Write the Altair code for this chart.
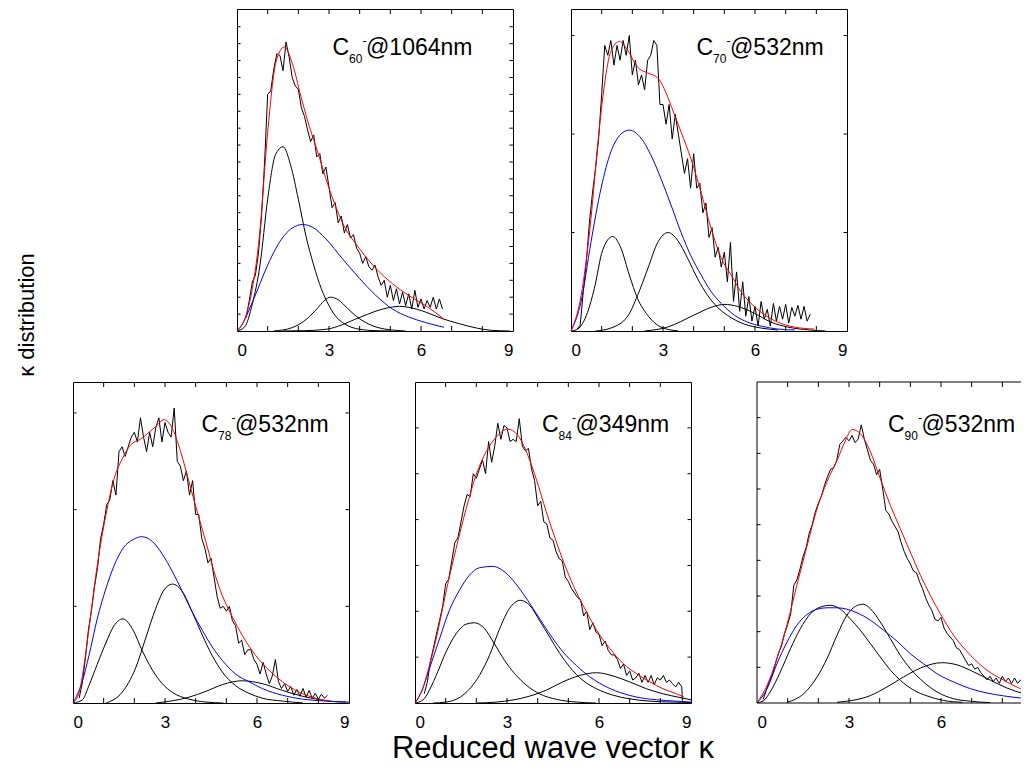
import altair as alt
import pandas as pd

FONT = "Liberation Sans"
W = 276
W_LAST = 264          # last panel is cut by the page edge in the reference
H_TOP = 322
H_BOT = 321

X_LABELS = [0, 3, 6, 9]
X_LABELS_LAST = [0, 3, 6]
X_MINOR = [1, 2, 3, 4, 5, 6, 7, 8]

# ---------------- C60- @ 1064 nm ----------------
C60_DATA_X = [0.3, 0.4, 0.5, 0.6, 0.7, 0.8, 0.9, 1.0, 1.1, 1.2, 1.3, 1.4, 1.5, 1.6, 1.7, 1.8, 1.9, 2.0,
              2.1, 2.2, 2.3, 2.4, 2.5, 2.6, 2.7, 2.8, 2.9, 3.0, 3.1, 3.2, 3.3, 3.4, 3.5, 3.6, 3.7, 3.8,
              3.9, 4.0, 4.1, 4.2, 4.3, 4.4, 4.5, 4.6, 4.7, 4.8, 4.9, 5.0, 5.1, 5.2, 5.3, 5.4, 5.5, 5.6,
              5.7, 5.8, 5.9, 6.0, 6.1, 6.2, 6.3, 6.4, 6.5, 6.6, 6.7]
C60_DATA_Y = [0.8, 1.8, 2.9, 3.3, 4.6, 6.8, 10.0, 14.0, 14.2, 15.5, 16.4, 16.3, 15.4, 17.1, 16.2, 15.0, 14.5, 14.3,
              13.2, 12.7, 11.9, 11.2, 11.6, 10.3, 10.5, 9.3, 9.7, 8.5, 7.3, 7.6, 6.4, 6.8, 5.8, 6.3, 5.5, 5.7,
              4.9, 4.6, 4.0, 4.4, 3.8, 3.6, 3.9, 3.2, 2.7, 3.0, 2.0, 2.7, 1.8, 2.5, 1.6, 2.3, 1.5, 2.2,
              1.3, 2.4, 1.4, 1.9, 1.3, 1.8, 1.4, 2.0, 1.3, 1.9, 1.3]
C60_C1_X = [0, 0.25, 0.5, 0.75, 1.0, 1.25, 1.5, 1.75, 2.0, 2.25, 2.5, 2.75, 3.0, 3.25, 3.5, 4.0, 4.5, 5.0]
C60_C1_Y = [0, 0.24, 1.6, 3.9, 7.8, 10.4, 10.9, 9.8, 7.8, 5.6, 3.9, 2.5, 1.5, 0.8, 0.43, 0.1, 0.02, 0]
C60_C2_X = [1.2, 1.8, 2.3, 2.6, 2.85, 3.05, 3.3, 3.6, 3.9, 4.2, 4.6, 5.0, 5.5]
C60_C2_Y = [0, 0.2, 0.75, 1.3, 1.8, 2.0, 1.85, 1.35, 0.85, 0.5, 0.2, 0.07, 0]
C60_C3_X = [1.5, 2.2, 2.9, 4.0, 4.5, 5.07, 5.3, 5.6, 6.15, 6.7, 7.25, 7.8, 8.3, 8.9]
C60_C3_Y = [0, 0.02, 0.1, 0.8, 1.16, 1.42, 1.46, 1.4, 1.12, 0.73, 0.43, 0.18, 0.04, 0]
C60_BLUE_X = [0, 0.18, 0.5, 1.0, 1.27, 1.54, 1.81, 2.14, 2.46, 2.9, 3.44, 4.0, 4.53, 5.07, 5.6, 6.15, 6.75]
C60_BLUE_Y = [0, 0.43, 1.7, 3.9, 4.9, 5.65, 6.1, 6.3, 6.14, 5.45, 4.27, 3.1, 2.1, 1.3, 0.83, 0.5, 0.22]
C60_RED_X = [0, 0.29, 0.5, 0.73, 1.0, 1.27, 1.54, 1.81, 2.08, 2.36, 2.63, 2.9, 3.17, 3.44, 4.0, 4.53,
             5.07, 5.6, 6.15, 6.75]
C60_RED_Y = [0, 0.9, 2.5, 5.6, 11.75, 15.9, 16.8, 15.8, 13.9, 12.1, 10.6, 9.0, 7.6, 6.4, 4.86, 3.7,
             2.8, 2.1, 1.5, 0.7]

# ---------------- C70- @ 532 nm ----------------
C70_DATA_X = [0.2, 0.3, 0.4, 0.5, 0.6, 0.7, 0.8, 0.9, 1.0, 1.1, 1.2, 1.3, 1.4, 1.5, 1.6, 1.7, 1.8, 1.9,
              2.0, 2.1, 2.2, 2.3, 2.4, 2.5, 2.6, 2.7, 2.8, 2.9, 3.0, 3.1, 3.2, 3.3, 3.4, 3.5, 3.6, 3.7,
              3.8, 3.9, 4.0, 4.1, 4.2, 4.3, 4.4, 4.5, 4.6, 4.7, 4.8, 4.9, 5.0, 5.1, 5.2, 5.3, 5.4, 5.5,
              5.6, 5.7, 5.8, 5.9, 6.0, 6.1, 6.2, 6.3, 6.4, 6.5, 6.6, 6.7, 6.8, 6.9, 7.0, 7.1, 7.2, 7.3,
              7.4, 7.5, 7.6, 7.7, 7.8]
C70_DATA_Y = [0.02, 0.06, 0.4, 0.7, 1.1, 1.4, 1.65, 1.95, 2.4, 2.9, 2.8, 2.95, 2.7, 2.9, 2.75, 2.95, 2.8, 3.0,
              2.6, 2.75, 2.5, 2.6, 2.45, 2.75, 2.8, 2.95, 2.9, 2.3, 2.3, 2.1, 2.3, 1.95, 2.2, 2.0, 1.8, 1.6,
              1.75, 1.45, 1.8, 1.45, 1.5, 1.2, 1.3, 0.95, 1.05, 0.75, 0.85, 0.65, 0.8, 0.5, 0.9, 0.3, 0.6, 0.2,
              0.5, 0.15, 0.35, 0.1, 0.25, 0.05, 0.3, 0.12, 0.22, 0.05, 0.28, 0.1, 0.25, 0.12, 0.27, 0.08, 0.24, 0.15,
              0.26, 0.12, 0.25, 0.1, 0.17]
C70_C1_X = [0, 0.22, 0.54, 0.76, 1.03, 1.36, 1.63, 1.9, 2.17, 2.5, 2.93, 3.5]
C70_C1_Y = [0, 0.02, 0.19, 0.43, 0.82, 0.96, 0.84, 0.57, 0.33, 0.16, 0.04, 0]
C70_C2_X = [0.8, 1.3, 1.85, 2.17, 2.5, 2.83, 3.17, 3.48, 3.8, 4.13, 4.46, 4.78, 5.1, 5.65, 6.2, 6.75]
C70_C2_Y = [0, 0.03, 0.15, 0.36, 0.63, 0.9, 1.0, 0.92, 0.74, 0.53, 0.36, 0.24, 0.16, 0.07, 0.03, 0.01]
C70_C3_X = [2.4, 3.15, 4.0, 4.57, 5.0, 5.43, 5.98, 6.52, 7.07, 7.8, 8.3]
C70_C3_Y = [0, 0.04, 0.16, 0.24, 0.27, 0.25, 0.18, 0.09, 0.04, 0.01, 0]
C70_BLUE_X = [0, 0.33, 0.65, 0.98, 1.3, 1.63, 1.9, 2.28, 2.6, 2.93, 3.26, 3.59, 3.9, 4.24, 4.57, 4.9,
              5.33, 5.76, 6.2, 6.74, 7.3]
C70_BLUE_Y = [0, 0.3, 0.9, 1.45, 1.82, 2.0, 2.04, 1.96, 1.79, 1.55, 1.28, 1.0, 0.77, 0.57, 0.4, 0.28,
              0.16, 0.09, 0.05, 0.02, 0.01]
C70_RED_X = [0, 0.33, 0.65, 0.87, 1.09, 1.3, 1.58, 1.85, 2.17, 2.5, 2.83, 3.04, 3.26, 3.59, 3.91, 4.24,
             4.57, 4.9, 5.22, 5.54, 5.87, 6.2, 6.74, 7.28, 7.93]
C70_RED_Y = [0, 0.36, 1.14, 1.89, 2.5, 2.84, 2.94, 2.85, 2.68, 2.62, 2.57, 2.46, 2.29, 2.02, 1.75, 1.41,
             1.04, 0.74, 0.57, 0.4, 0.28, 0.19, 0.09, 0.04, 0.02]

# ---------------- C78- @ 532 nm ----------------
C78_DATA_X = [0.2, 0.3, 0.4, 0.5, 0.6, 0.7, 0.8, 0.9, 1.0, 1.1, 1.2, 1.3, 1.4, 1.5, 1.6, 1.7, 1.8, 1.9,
              2.0, 2.1, 2.2, 2.3, 2.4, 2.5, 2.6, 2.7, 2.8, 2.9, 3.0, 3.1, 3.2, 3.3, 3.4, 3.5, 3.6, 3.7,
              3.8, 3.9, 4.0, 4.1, 4.2, 4.3, 4.4, 4.5, 4.6, 4.7, 4.8, 4.9, 5.0, 5.1, 5.2, 5.3, 5.4, 5.5,
              5.6, 5.7, 5.8, 5.9, 6.0, 6.1, 6.2, 6.3, 6.4, 6.5, 6.6, 6.7, 6.8, 6.9, 7.0, 7.1, 7.2, 7.3,
              7.4, 7.5, 7.6, 7.7, 7.8, 7.9, 8.0, 8.1, 8.2, 8.3]
C78_DATA_Y = [0.05, 0.2, 0.45, 0.75, 0.95, 1.2, 1.4, 1.7, 1.85, 2.05, 2.1, 2.3, 2.15, 2.6, 2.65, 2.55, 2.65, 2.75,
              2.8, 2.7, 2.95, 2.75, 2.6, 2.8, 2.65, 2.85, 2.95, 2.7, 2.9, 2.8, 2.75, 3.05, 2.5, 2.45, 2.3, 2.4,
              2.15, 2.3, 1.95, 1.95, 1.7, 1.6, 1.45, 1.5, 1.3, 1.1, 0.98, 1.0, 0.95, 1.0, 0.85, 0.8, 0.62, 0.65,
              0.5, 0.55, 0.55, 0.45, 0.4, 0.3, 0.42, 0.3, 0.2, 0.28, 0.45, 0.22, 0.15, 0.2, 0.12, 0.17, 0.08, 0.14,
              0.07, 0.15, 0.06, 0.13, 0.05, 0.1, 0.04, 0.09, 0.05, 0.08]
C78_C1_X = [0, 0.3, 0.52, 0.79, 1.07, 1.34, 1.63, 1.93, 2.26, 2.59, 2.91, 3.24, 3.78, 4.33, 4.9]
C78_C1_Y = [0, 0.03, 0.18, 0.4, 0.62, 0.8, 0.87, 0.77, 0.54, 0.34, 0.2, 0.11, 0.04, 0.01, 0]
C78_C2_X = [1.07, 1.6, 2.04, 2.37, 2.7, 2.97, 3.24, 3.57, 3.89, 4.22, 4.54, 4.87, 5.3, 5.74, 6.17, 6.83, 7.5]
C78_C2_Y = [0, 0.11, 0.36, 0.67, 0.98, 1.17, 1.23, 1.15, 0.94, 0.7, 0.49, 0.32, 0.18, 0.1, 0.05, 0.02, 0]
C78_C3_X = [2.7, 3.78, 4.33, 4.87, 5.52, 6.17, 6.83, 7.48, 8.13, 8.78, 9.0]
C78_C3_Y = [0, 0.06, 0.12, 0.19, 0.23, 0.2, 0.13, 0.07, 0.03, 0.01, 0.01]
C78_BLUE_X = [0, 0.3, 0.52, 0.79, 1.07, 1.34, 1.63, 1.96, 2.24, 2.59, 2.91, 3.24, 3.57, 3.89, 4.22, 4.54,
              4.87, 5.3, 5.74, 6.17, 6.83, 7.48, 8.24, 8.9]
C78_BLUE_Y = [0, 0.22, 0.49, 0.87, 1.18, 1.42, 1.6, 1.69, 1.72, 1.67, 1.54, 1.36, 1.15, 0.94, 0.75, 0.58,
              0.44, 0.3, 0.22, 0.15, 0.08, 0.04, 0.02, 0.01]
C78_RED_X = [0, 0.2, 0.36, 0.52, 0.79, 1.07, 1.34, 1.63, 1.88, 2.21, 2.48, 2.7, 2.97, 3.24, 3.51, 3.78,
             4.05, 4.33, 4.6, 4.87, 5.2, 5.52, 5.96, 6.39, 6.83, 7.26, 7.8, 8.35]
C78_RED_Y = [0, 0.11, 0.39, 0.77, 1.42, 1.94, 2.32, 2.54, 2.67, 2.73, 2.8, 2.86, 2.93, 2.84, 2.6, 2.29,
             1.98, 1.67, 1.36, 1.11, 0.89, 0.7, 0.49, 0.34, 0.22, 0.13, 0.06, 0.02]

# ---------------- C84- @ 349 nm ----------------
C84_DATA_X = [0.3, 0.4, 0.5, 0.6, 0.7, 0.8, 0.9, 1.0, 1.1, 1.2, 1.3, 1.4, 1.5, 1.6, 1.7, 1.8, 1.9, 2.0,
              2.1, 2.2, 2.3, 2.4, 2.5, 2.6, 2.7, 2.8, 2.9, 3.0, 3.1, 3.2, 3.3, 3.4, 3.5, 3.6, 3.7, 3.8,
              3.9, 4.0, 4.1, 4.2, 4.3, 4.4, 4.5, 4.6, 4.7, 4.8, 4.9, 5.0, 5.1, 5.2, 5.3, 5.4, 5.5, 5.6,
              5.7, 5.8, 5.9, 6.0, 6.1, 6.2, 6.3, 6.4, 6.5, 6.6, 6.7, 6.8, 6.9, 7.0, 7.1, 7.2, 7.3, 7.4,
              7.5, 7.6, 7.7, 7.8, 7.9, 8.0, 8.1, 8.2, 8.3, 8.4, 8.5, 8.6, 8.7, 8.72]
C84_DATA_Y = [0.2, 0.45, 0.9, 1.2, 1.5, 1.8, 2.1, 2.6, 2.7, 3.1, 3.5, 3.6, 3.95, 4.3, 4.55, 4.5, 5.0, 4.9,
              5.1, 5.3, 5.0, 5.7, 5.25, 5.6, 6.1, 5.75, 6.05, 6.0, 5.7, 5.75, 5.7, 6.2, 5.6, 5.5, 5.55, 5.1,
              4.85, 4.3, 4.4, 3.95, 3.9, 3.6, 3.55, 3.3, 3.15, 3.1, 2.75, 2.65, 2.5, 2.4, 2.3, 2.25, 1.9, 2.0,
              1.6, 1.75, 1.55, 1.5, 1.25, 1.35, 1.15, 1.05, 1.05, 0.95, 0.75, 0.85, 0.6, 0.7, 0.5, 0.55, 0.65, 0.45,
              0.6, 0.45, 0.6, 0.4, 0.55, 0.5, 0.6, 0.45, 0.5, 0.42, 0.35, 0.45, 0.35, 0.05]
C84_C1_X = [0, 0.25, 0.47, 0.74, 1.01, 1.34, 1.67, 1.94, 2.27, 2.59, 2.92, 3.25, 3.63, 4.06, 4.61, 5.26, 5.9]
C84_C1_Y = [0, 0.06, 0.28, 0.68, 1.11, 1.51, 1.72, 1.75, 1.62, 1.29, 0.93, 0.64, 0.39, 0.2, 0.08, 0.02, 0]
C84_C2_X = [0.6, 1.01, 1.56, 2.1, 2.43, 2.76, 3.08, 3.43, 3.74, 4.06, 4.39, 4.72, 5.04, 5.48, 5.92, 6.46,
            7.0, 7.66, 8.42, 9.0]
C84_C2_Y = [0, 0.02, 0.17, 0.6, 1.04, 1.62, 2.06, 2.24, 2.13, 1.8, 1.44, 1.08, 0.79, 0.49, 0.31, 0.17,
            0.09, 0.04, 0.02, 0.01]
C84_C3_X = [2.0, 2.65, 3.74, 4.28, 4.82, 5.37, 5.92, 6.46, 7.0, 7.55, 8.09, 8.64, 9.0]
C84_C3_Y = [0, 0.02, 0.15, 0.28, 0.46, 0.6, 0.66, 0.59, 0.46, 0.31, 0.2, 0.12, 0.07]
C84_BLUE_X = [0, 0.25, 0.47, 0.8, 1.12, 1.45, 1.78, 2.1, 2.54, 2.86, 3.19, 3.52, 3.85, 4.17, 4.5, 4.83,
              5.26, 5.7, 6.13, 6.68, 7.22, 7.88, 8.53, 9.0]
C84_BLUE_Y = [0, 0.31, 0.75, 1.4, 2.02, 2.46, 2.79, 2.95, 2.98, 2.89, 2.68, 2.39, 2.06, 1.73, 1.4, 1.11,
              0.82, 0.57, 0.39, 0.23, 0.13, 0.07, 0.04, 0.02]
C84_RED_X = [0, 0.25, 0.47, 0.69, 1.01, 1.34, 1.67, 1.99, 2.32, 2.65, 3.03, 3.35, 3.68, 3.95, 4.28, 4.61,
             4.93, 5.26, 5.59, 5.92, 6.35, 6.79, 7.22, 7.66, 8.09, 8.53, 8.77]
C84_RED_Y = [0, 0.31, 0.82, 1.4, 2.42, 3.37, 4.24, 4.97, 5.48, 5.8, 5.97, 5.84, 5.4, 4.89, 4.17, 3.51,
             2.93, 2.42, 1.99, 1.59, 1.19, 0.86, 0.64, 0.46, 0.31, 0.2, 0.13]

# ---------------- C90- @ 532 nm ----------------
C90_DATA_X = [0.2, 0.3, 0.4, 0.5, 0.6, 0.7, 0.8, 0.9, 1.0, 1.1, 1.2, 1.3, 1.4, 1.5, 1.6, 1.7, 1.8, 1.9,
              2.0, 2.1, 2.2, 2.3, 2.4, 2.5, 2.6, 2.7, 2.8, 2.9, 3.0, 3.1, 3.2, 3.3, 3.4, 3.5, 3.6, 3.7,
              3.8, 3.9, 4.0, 4.1, 4.2, 4.3, 4.4, 4.5, 4.6, 4.7, 4.8, 4.9, 5.0, 5.1, 5.2, 5.3, 5.4, 5.5,
              5.6, 5.7, 5.8, 5.9, 6.0, 6.1, 6.2, 6.3, 6.4, 6.5, 6.6, 6.7, 6.8, 6.9, 7.0, 7.1, 7.2, 7.3,
              7.4, 7.5, 7.6, 7.7, 7.8, 7.9, 8.0, 8.1, 8.2, 8.3, 8.4, 8.5, 8.6, 8.7, 8.8, 8.9, 9.0]
C90_DATA_Y = [0.1, 0.35, 0.6, 0.8, 1.1, 1.4, 1.6, 1.95, 2.2, 2.5, 3.3, 3.45, 3.75, 4.1, 4.35, 4.75, 5.0, 5.35,
              5.6, 5.8, 6.1, 6.35, 6.55, 6.6, 6.8, 7.25, 7.35, 7.45, 7.35, 7.5, 7.3, 7.4, 7.8, 7.4, 7.1, 6.8,
              6.7, 6.4, 6.55, 6.0, 5.4, 5.3, 5.1, 4.95, 4.8, 4.5, 4.25, 4.05, 3.9, 3.7, 3.65, 3.4, 3.2, 2.95,
              2.75, 2.6, 2.35, 2.3, 2.4, 2.1, 1.95, 1.85, 1.75, 1.55, 1.5, 1.35, 1.2, 1.05, 1.1, 0.95, 1.0, 0.85,
              0.75, 0.65, 0.75, 0.6, 0.7, 0.55, 0.75, 0.6, 0.7, 0.55, 0.7, 0.55, 0.65, 0.55, 0.7, 0.6, 0.7]
C90_C1_X = [0, 0.22, 0.43, 0.76, 1.09, 1.41, 1.74, 2.07, 2.39, 2.72, 3.04, 3.37, 3.7, 4.02, 4.35, 4.67,
            5.11, 5.54, 6.09, 6.7]
C90_C1_Y = [0, 0.07, 0.31, 0.87, 1.52, 2.08, 2.5, 2.69, 2.74, 2.63, 2.36, 2.04, 1.66, 1.29, 0.92, 0.64,
            0.36, 0.2, 0.07, 0.02]
C90_C2_X = [0.98, 1.52, 1.96, 2.28, 2.61, 2.93, 3.21, 3.46, 3.7, 4.02, 4.35, 4.67, 5.0, 5.43, 5.87, 6.41,
            6.96, 7.6]
C90_C2_Y = [0.02, 0.26, 0.73, 1.24, 1.9, 2.46, 2.71, 2.77, 2.64, 2.27, 1.8, 1.34, 0.96, 0.59, 0.31, 0.12,
            0.05, 0.01]
C90_C3_X = [2.61, 3.7, 4.24, 4.78, 5.33, 6.03, 6.52, 7.07, 7.61, 8.15, 8.7, 9.0]
C90_C3_Y = [0.02, 0.21, 0.45, 0.73, 0.98, 1.13, 1.07, 0.87, 0.64, 0.42, 0.26, 0.2]
C90_BLUE_X = [0, 0.33, 0.65, 0.98, 1.3, 1.63, 1.96, 2.28, 2.61, 2.93, 3.26, 3.7, 4.13, 4.57, 5.0, 5.43,
              5.87, 6.41, 6.96, 7.5, 8.04, 8.59, 9.0]
C90_BLUE_Y = [0, 0.4, 1.1, 1.71, 2.18, 2.48, 2.63, 2.67, 2.67, 2.63, 2.53, 2.32, 2.04, 1.73, 1.38, 1.1,
              0.82, 0.59, 0.4, 0.28, 0.2, 0.14, 0.11]
C90_RED_X = [0, 0.33, 0.65, 0.98, 1.3, 1.63, 1.96, 2.28, 2.61, 2.88, 3.1, 3.37, 3.7, 4.02, 4.35, 4.67,
             5.0, 5.33, 5.65, 5.98, 6.41, 6.96, 7.5, 8.04, 8.59, 9.0]
C90_RED_Y = [0, 0.5, 1.24, 2.2, 3.3, 4.4, 5.45, 6.2, 6.8, 7.35, 7.67, 7.55, 7.04, 6.29, 5.54, 4.89,
             4.23, 3.58, 3.02, 2.5, 1.9, 1.34, 0.92, 0.64, 0.4, 0.26]

# y-axis extents (arbitrary units) and minor tick values of each panel
Y_MAX = {"C60": 19.05, "C70": 3.27, "C78": 3.32, "C84": 7.0, "C90": 9.0}
Y_TICKS = {"C60": list(range(1, 19)), "C70": [1, 2, 3], "C78": [1, 2, 3],
           "C84": [1, 2, 3, 4, 5, 6], "C90": [1, 2, 3, 4, 5, 6, 7, 8]}
TITLE_SUB = {"C60": "60", "C70": "70", "C78": "78", "C84": "84", "C90": "90"}
TITLE_REST = {"C60": "@1064nm", "C70": "@532nm", "C78": "@532nm", "C84": "@349nm", "C90": "@532nm"}

SERIES = {
    "C60": (C60_DATA_X, C60_DATA_Y, [(C60_C1_X, C60_C1_Y), (C60_C2_X, C60_C2_Y), (C60_C3_X, C60_C3_Y)],
            (C60_BLUE_X, C60_BLUE_Y), (C60_RED_X, C60_RED_Y)),
    "C70": (C70_DATA_X, C70_DATA_Y, [(C70_C1_X, C70_C1_Y), (C70_C2_X, C70_C2_Y), (C70_C3_X, C70_C3_Y)],
            (C70_BLUE_X, C70_BLUE_Y), (C70_RED_X, C70_RED_Y)),
    "C78": (C78_DATA_X, C78_DATA_Y, [(C78_C1_X, C78_C1_Y), (C78_C2_X, C78_C2_Y), (C78_C3_X, C78_C3_Y)],
            (C78_BLUE_X, C78_BLUE_Y), (C78_RED_X, C78_RED_Y)),
    "C84": (C84_DATA_X, C84_DATA_Y, [(C84_C1_X, C84_C1_Y), (C84_C2_X, C84_C2_Y), (C84_C3_X, C84_C3_Y)],
            (C84_BLUE_X, C84_BLUE_Y), (C84_RED_X, C84_RED_Y)),
    "C90": (C90_DATA_X, C90_DATA_Y, [(C90_C1_X, C90_C1_Y), (C90_C2_X, C90_C2_Y), (C90_C3_X, C90_C3_Y)],
            (C90_BLUE_X, C90_BLUE_Y), (C90_RED_X, C90_RED_Y)),
}

ONE = pd.DataFrame({"a": [0]})
NOFRAME = alt.ViewBackground(stroke="transparent")


def x_axis(values, color="black"):
    return alt.Axis(values=values, format="d", title=None, grid=False, domain=False, ticks=False,
                    tickSize=0, labelPadding=11, labelFontSize=17, labelFont=FONT, labelColor=color)


def text_at(txt, x, y, size, align="left", angle=0):
    kw = dict(text=txt, font=FONT, fontSize=size, align=align, baseline="alphabetic", color="black")
    if angle:
        kw["angle"] = angle
    return alt.Chart(ONE).mark_text(**kw).encode(x=alt.value(x), y=alt.value(y))


def panel(key, h, cx, by, width=W, labels=X_LABELS, last=False, extra=None):
    dx, dy, comps, blue, red = SERIES[key]
    xs = alt.Scale(domain=[0, 9 * width / W], nice=False, zero=False)
    ys = alt.Scale(domain=[0, Y_MAX[key]], nice=False, zero=False)
    xa = x_axis(labels)

    def curve(x, y, color, interp):
        return alt.Chart(pd.DataFrame({"x": x, "y": y})).mark_line(
            color=color, strokeWidth=1, interpolate=interp, clip=last
        ).encode(
            x=alt.X("x:Q", scale=xs, axis=xa),
            y=alt.Y("y:Q", scale=ys, axis=None),
        )

    layers = [curve(dx, dy, "black", "linear")]
    for cxs, cys in comps:
        layers.append(curve(cxs, cys, "black", "monotone"))
    layers.append(curve(blue[0], blue[1], "#0000ff", "monotone"))
    layers.append(curve(red[0], red[1], "#ff0000", "monotone"))

    xt = alt.Chart(pd.DataFrame({"t": X_MINOR})).mark_rule(color="black", strokeWidth=1)
    layers.append(xt.encode(x=alt.X("t:Q", scale=xs, axis=xa), y=alt.value(h), y2=alt.value(h - 5)))
    layers.append(xt.encode(x=alt.X("t:Q", scale=xs, axis=xa), y=alt.value(0), y2=alt.value(5)))
    yt = alt.Chart(pd.DataFrame({"t": Y_TICKS[key]})).mark_rule(color="black", strokeWidth=1)
    layers.append(yt.encode(y=alt.Y("t:Q", scale=ys, axis=None), x=alt.value(0), x2=alt.value(3.5)))
    if not last:
        layers.append(yt.encode(y=alt.Y("t:Q", scale=ys, axis=None), x=alt.value(width - 3.5), x2=alt.value(width)))
    else:
        # frame without its right side (cut by the page edge)
        fr = alt.Chart(ONE).mark_rule(color="black", strokeWidth=1)
        layers.append(fr.encode(x=alt.value(0), y=alt.value(0), y2=alt.value(h)))
        layers.append(fr.encode(x=alt.value(0), x2=alt.value(width), y=alt.value(0)))
        layers.append(fr.encode(x=alt.value(0), x2=alt.value(width), y=alt.value(h)))

    # panel label:  C<sub>nn</sub><sup>-</sup>@...nm
    layers.append(text_at("C", cx, by, 23))
    layers.append(text_at(TITLE_SUB[key], cx + 16.5, by + 8, 12))
    layers.append(text_at("-", cx + 30, by - 10, 12))
    layers.append(text_at(TITLE_REST[key], cx + 33.5, by, 23))
    if extra is not None:
        layers.append(extra)
    props = dict(width=width, height=h)
    if last:
        props["view"] = NOFRAME
    return alt.layer(*layers).properties(**props)


p1 = panel("C60", H_TOP, 95.5, 46)
p2 = panel("C70", H_TOP, 125.5, 46)
p3 = panel("C78", H_BOT, 128.5, 50)
p4 = panel("C84", H_BOT, 127, 50, extra=text_at("Reduced wave vector \u03ba", W / 2, 376, 31, align="center"))
p5 = panel("C90", H_BOT, 131, 50, width=W_LAST, labels=X_LABELS_LAST, last=True)

# invisible spacer that shifts the upper row; it carries a transparent "0" label so both
# rows have the same left overhang
spacer = alt.Chart(ONE).mark_point(opacity=0).encode(
    x=alt.X("a:Q", axis=x_axis([0], "transparent"), scale=alt.Scale(domain=[0, 1])),
    y=alt.Y("a:Q", axis=None),
).properties(width=106, height=H_TOP, view=NOFRAME)

top = alt.hconcat(spacer, p1, p2, spacing=58, bounds="flush")
bottom = alt.hconcat(p3, p4, p5, spacing=66, bounds="flush")
right = alt.vconcat(top, bottom, spacing=22)

ylab = text_at("\u03ba distribution", 25, 306, 22, align="center", angle=270).properties(
    width=40, height=H_TOP + 50 + H_BOT, view=NOFRAME)

chart = alt.hconcat(ylab, right, spacing=24, bounds="flush").properties(padding=0).configure(
    font=FONT, view=alt.ViewConfig(stroke="black", strokeWidth=1)
)

chart.save("out.html", embed_options={"renderer": "svg", "actions": False})
